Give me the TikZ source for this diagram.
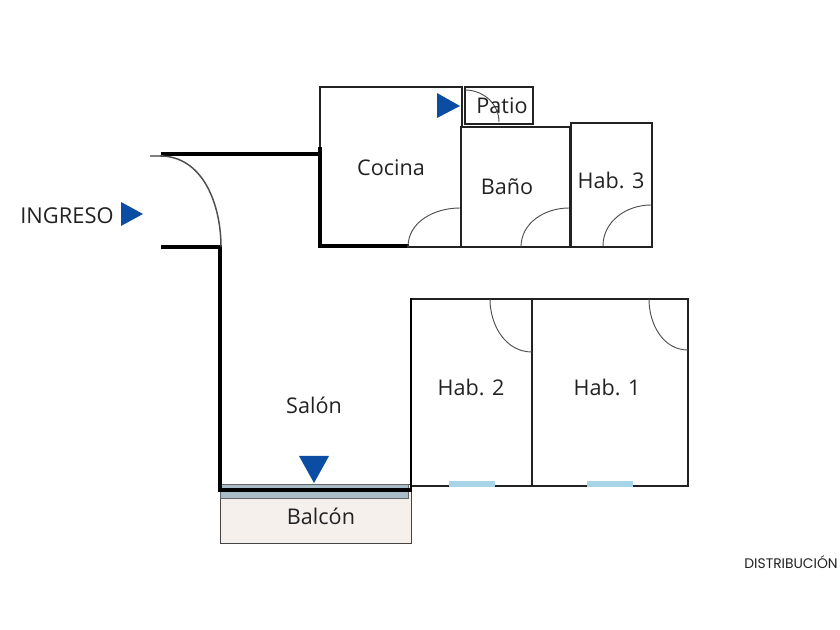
\documentclass[tikz,border=0pt]{standalone}
\usepackage{fontspec}
\setmainfont{Open Sans}
\newfontfamily\stampfont{Poppins}
\definecolor{wallcol}{HTML}{222222}
\definecolor{markcol}{HTML}{0B4DA2}
\definecolor{balconycol}{HTML}{F6F0ED}
\definecolor{glasscol}{HTML}{A9BDC8}
\definecolor{windowcol}{HTML}{A8D4E8}
\tikzset{
  wall/.style={draw=wallcol, line width=1.9pt, line cap=rect},
  heavywall/.style={draw=black, line width=2.3pt, line cap=rect},
  doorarc/.style={draw=wallcol!80, line width=0.7pt},
  marker/.style={fill=markcol, draw=none},
  roomlabel/.style={text=wallcol, font=\fontsize{16.2}{18}\selectfont, inner sep=0pt},
}
\begin{document}
\begin{tikzpicture}[x=0.75pt, y=-0.75pt]
    \useasboundingbox (0,0) rectangle (840,630);

    % Balcony and glazing
    \draw[fill=balconycol, draw=wallcol!85, line width=0.6pt] (220,484) rectangle (411,543);
    \draw[fill=glasscol, draw=wallcol!70, line width=0.6pt] (220,484) rectangle (408,498);

    % Kitchen and patio
    \draw[wall] (408,247) -- (320,247) -- (320,87) -- (462,87) -- (462,127);
    \draw[wall, line width=2.1pt] (465,87) rectangle (533,124);
    \draw[heavywall] (320,149) -- (320,246) -- (407,246);

    % Bathroom and room 3
    \draw[wall] (408,247) -- (461,247);
    \draw[wall] (461,127) rectangle (570,247);
    \draw[wall] (571,123) rectangle (652,247);

    % Rooms 1 and 2
    \draw[wall] (411,299) rectangle (532,486);
    \draw[wall] (532,299) rectangle (688,486);

    % Living room walls
    \draw[heavywall] (163,154) -- (318,154);
    \draw[heavywall] (163,247) -- (220,247) -- (220,490) -- (410,490);
    \draw[heavywall, line width=2.1pt] (411,299) -- (411,490);

    % Windows
    \fill[windowcol] (449,481) rectangle (495,487);
    \fill[windowcol] (587,481) rectangle (633,487);

    % Door swings
    \draw[line width=1.1pt, draw=gray] (150,156) -- (163,156);
    \draw[doorarc, line width=1.1pt] (160,156) to[out=0, in=90] (221,247);
    \draw[doorarc] (408,247) to[out=90, in=180] (460,208);
    \draw[doorarc] (521,247) to[out=90, in=180] (569,208);
    \draw[doorarc] (603,246) to[out=90, in=180] (651,205);
    \draw[doorarc] (490,299) to[out=-90, in=180] (532,352);
    \draw[doorarc] (649,299) to[out=-90, in=180] (688,350);
    \draw[doorarc] (465,90) to[out=0, in=90] (499,122);

    % Blue markers
    \fill[marker] (437,93) -- (460,106) -- (437,118) -- cycle;
    \fill[marker] (121,202) -- (143,214) -- (121,226) -- cycle;
    \fill[marker] (299,456) -- (329,456) -- (314,483) -- cycle;

    % Labels
    \node[roomlabel] (cocina) at (391,168) {Cocina};
    \node[roomlabel] (patio) at (502,106) {Patio};
    \node[roomlabel] (bano) at (507,187) {Baño};
    \node[roomlabel] (hab3) at (611,180) {Hab. 3};
    \node[roomlabel] (hab2) at (471,387) {Hab. 2};
    \node[roomlabel] (hab1) at (607,387) {Hab. 1};
    \node[roomlabel] (salon) at (314,405) {Salón};
    \node[roomlabel] (balcon) at (321,516) {Balcón};
    \node[roomlabel, font=\fontsize{16.4}{18}\selectfont] (ingreso) at (67,216) {INGRESO};
    \node[text=wallcol, font=\stampfont\fontsize{10.4}{12}\selectfont, inner sep=0pt, anchor=east] (distrib) at (838,562) {DISTRIBUCIÓN};
\end{tikzpicture}
\end{document}
